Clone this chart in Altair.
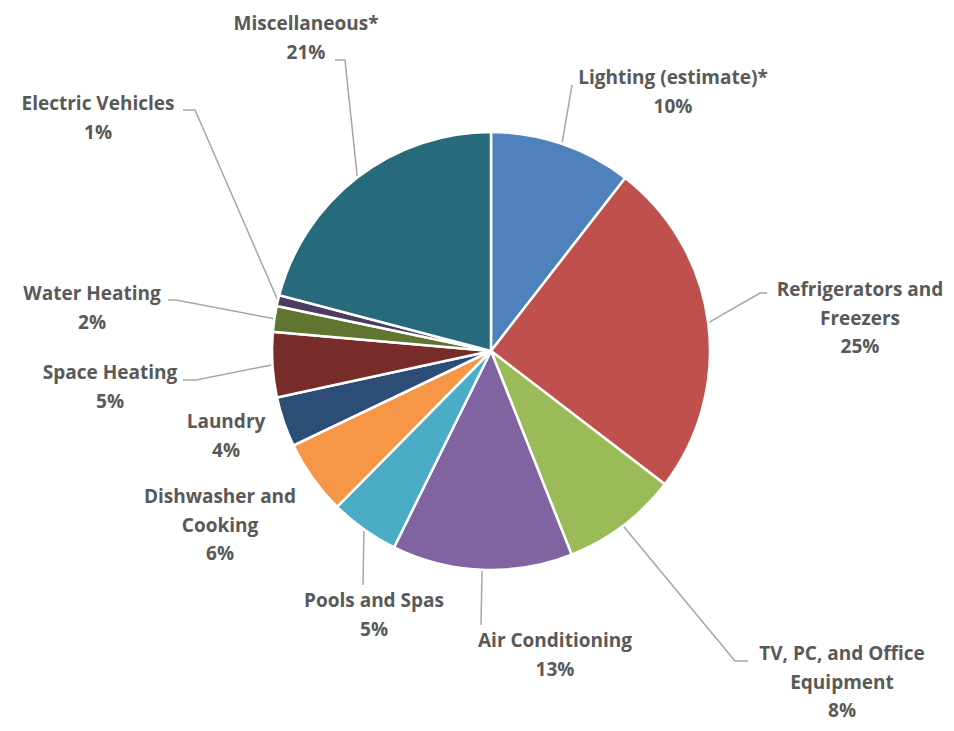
import math
import altair as alt
import pandas as pd

# ---- data ----
categories = ["Lighting (estimate)*", "Refrigerators and Freezers", "TV, PC, and Office Equipment",
              "Air Conditioning", "Pools and Spas", "Dishwasher and Cooking", "Laundry",
              "Space Heating", "Water Heating", "Electric Vehicles", "Miscellaneous*"]
values = [10.5, 24.9, 8.6, 13.3, 5.1, 5.5, 3.7, 4.8, 1.9, 0.8, 20.9]
pct_labels = ["10%", "25%", "8%", "13%", "5%", "6%", "4%", "5%", "2%", "1%", "21%"]
name_lines = [["Lighting (estimate)*"], ["Refrigerators and", "Freezers"],
              ["TV, PC, and Office", "Equipment"], ["Air Conditioning"], ["Pools and Spas"],
              ["Dishwasher and", "Cooking"], ["Laundry"], ["Space Heating"], ["Water Heating"],
              ["Electric Vehicles"], ["Miscellaneous*"]]
colors = ["#4F81BD", "#C0504D", "#9BBB59", "#8064A2", "#4BACC6", "#F79646",
          "#2C4D75", "#772C2A", "#5F7530", "#4D3B62", "#276A7C"]

# ---- layout (pixels, relative to the pie centre; y grows downwards) ----
W, H = 938, 715
CX, CY = 483, 343
R = 219
LINE_H = 28.5
label_pos = [(182, -273), (369, -61), (351, 303), (64, 290), (-117, 250), (-271, 146),
             (-265, 71), (-381, 22), (-399, -57), (-393, -247), (-185, -327)]
leader_pts = [[(81, -266)], [(269, -58), (276, -58)], [(244, 310), (257, 310)],
              [(-10, 274)], [(-128, 234)], None, None,
              [(-295, 29), (-308, 29)], [(-315, -51), (-323, -51)],
              [(-296, -241), (-308, -241)], [(-146, -291), (-156, -291)]]

pie = pd.DataFrame({"category": categories, "value": values, "idx": range(len(values))})

total = sum(values)
cum = 0.0
text_rows, line_rows = [], []
for i, (cat, v) in enumerate(zip(categories, values)):
    mid = (cum + v / 2) / total * 2 * math.pi
    cum += v
    lx, ly = label_pos[i]
    rows = name_lines[i] + [pct_labels[i]]
    for j, t in enumerate(rows):
        text_rows.append({"category": cat, "text": t, "x": lx, "y": ly + j * LINE_H})
    if leader_pts[i]:
        pts = [(R * math.sin(mid), -R * math.cos(mid))] + leader_pts[i]
        for k, (px, py) in enumerate(pts):
            line_rows.append({"category": cat, "pt": k, "x": px, "y": py})

texts = pd.DataFrame(text_rows)
lines = pd.DataFrame(line_rows)

xscale = alt.Scale(domain=[-CX, W - CX], nice=False, zero=False)
yscale = alt.Scale(domain=[-CY, H - CY], nice=False, zero=False, reverse=True)

arcs = alt.Chart(pie).mark_arc(outerRadius=R, stroke="white", strokeWidth=2.5).encode(
    theta=alt.Theta("value:Q", stack=True),
    order=alt.Order("idx:Q"),
    color=alt.Color("category:N", scale=alt.Scale(domain=categories, range=colors), legend=None),
    x=alt.value(CX),
    y=alt.value(CY),
)

leaders = alt.Chart(lines).mark_line(color="#A6A6A6", strokeWidth=1.5).encode(
    x=alt.X("x:Q", scale=xscale, axis=None),
    y=alt.Y("y:Q", scale=yscale, axis=None),
    detail="category:N",
    order="pt:Q",
)

labels = alt.Chart(texts).mark_text(font="Open Sans", fontWeight="bold", fontSize=19,
                                    color="#595959", align="center", baseline="middle").encode(
    x=alt.X("x:Q", scale=xscale, axis=None),
    y=alt.Y("y:Q", scale=yscale, axis=None),
    text="text:N",
)

chart = alt.layer(leaders, arcs, labels).properties(
    width=W, height=H, padding=0, autosize=alt.AutoSizeParams(type="none")
).configure_view(stroke=None)

chart.save("out.html", embed_options={"renderer": "svg", "actions": False})
